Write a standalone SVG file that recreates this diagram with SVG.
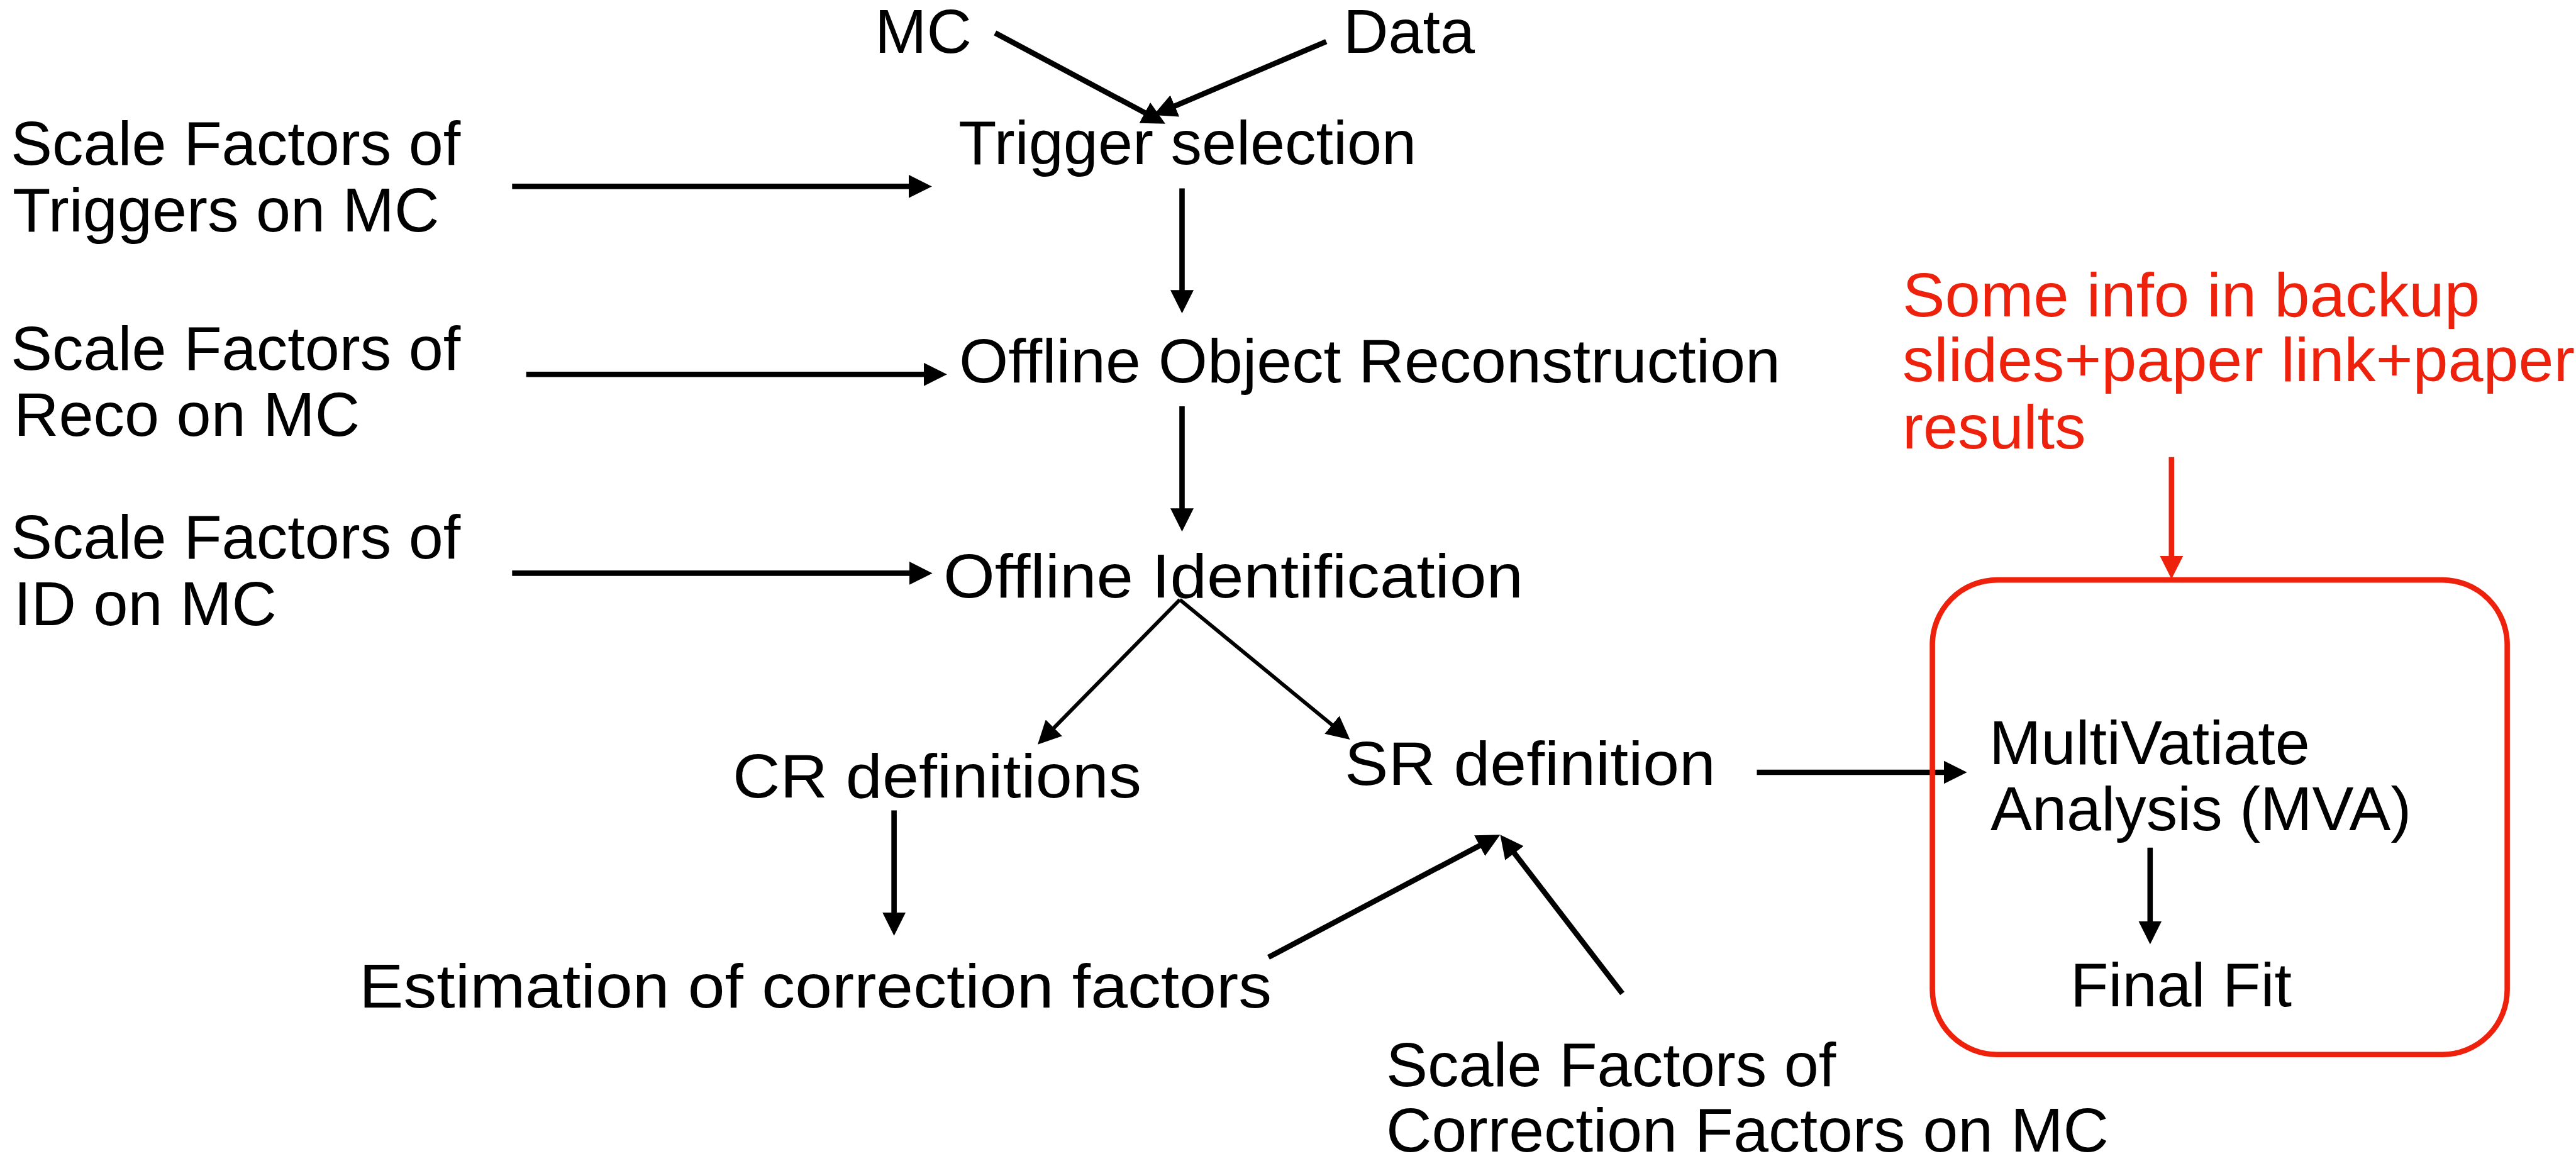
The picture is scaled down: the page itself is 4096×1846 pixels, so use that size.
<svg xmlns="http://www.w3.org/2000/svg" width="4096" height="1846" viewBox="0 0 4096 1846">
<style>
text{font-family:"Liberation Sans",Arial,Helvetica,sans-serif;font-size:99px;fill:#000}
.red{fill:#EE220C}
.c{stroke:#000;stroke-width:8.6;fill:none}
.thin{stroke-width:6}
.rc{stroke:#EE220C;stroke-width:8.6;fill:none}
</style>
<defs>
<marker id="ah" markerUnits="userSpaceOnUse" markerWidth="37" markerHeight="37" viewBox="0 0 37 37" refX="17" refY="18.5" orient="auto">
<path d="M0,0 L37,18.5 L0,37 z" fill="#000"/>
</marker>
<marker id="ahr" markerUnits="userSpaceOnUse" markerWidth="37" markerHeight="37" viewBox="0 0 37 37" refX="17" refY="18.5" orient="auto">
<path d="M0,0 L37,18.5 L0,37 z" fill="#EE220C"/>
</marker>
</defs>
<rect width="4096" height="1846" fill="#fff"/>
<g id="connectors">
<line class="c" x1="1582.3" y1="52.4" x2="1835.3" y2="187.3" marker-end="url(#ah)"/>
<line class="c" x1="2108.8" y1="66.1" x2="1852.4" y2="175.2" marker-end="url(#ah)"/>
<line class="c" x1="814.3" y1="296.4" x2="1461.8" y2="296.4" marker-end="url(#ah)"/>
<line class="c" x1="836.7" y1="595.3" x2="1485.8" y2="595.3" marker-end="url(#ah)"/>
<line class="c" x1="814.3" y1="911.4" x2="1462.6" y2="911.4" marker-end="url(#ah)"/>
<line class="c" x1="1879.5" y1="299.4" x2="1879.5" y2="478.2" marker-end="url(#ah)"/>
<line class="c" x1="1879.5" y1="646" x2="1879.5" y2="825.3" marker-end="url(#ah)"/>
<line class="c thin" x1="1876" y1="953.5" x2="1664" y2="1169.4" marker-end="url(#ah)"/>
<line class="c thin" x1="1876" y1="953.5" x2="2131.1" y2="1163.3" marker-end="url(#ah)"/>
<line class="c" x1="2793.5" y1="1228" x2="3107.6" y2="1228" marker-end="url(#ah)"/>
<line class="c" x1="1421.6" y1="1288.5" x2="1421.6" y2="1467.8" marker-end="url(#ah)"/>
<line class="c" x1="2017" y1="1522" x2="2367.7" y2="1336.6" marker-end="url(#ah)"/>
<line class="c" x1="2579.6" y1="1579.7" x2="2397.6" y2="1343.1" marker-end="url(#ah)"/>
<line class="rc" x1="3452.8" y1="726.7" x2="3452.8" y2="900.8" marker-end="url(#ahr)"/>
<line class="c" x1="3418.8" y1="1347.8" x2="3418.8" y2="1481.5" marker-end="url(#ah)"/>
</g>
<g id="mc"><text x="1391" y="84">MC</text></g>
<g id="data"><text x="2136" y="84">Data</text></g>
<g id="trigger"><text x="1524" y="261">Trigger selection</text></g>
<g id="sf-trig"><text x="17" y="262">Scale Factors of</text><text x="20" y="367.6">Triggers on MC</text></g>
<g id="sf-reco"><text x="17" y="587.6">Scale Factors of</text><text x="22" y="693.2">Reco on MC</text></g>
<g id="sf-id"><text x="17" y="888.2">Scale Factors of</text><text x="22" y="993.9">ID on MC</text></g>
<g id="reco"><text x="1525" y="608" textLength="1306" lengthAdjust="spacingAndGlyphs">Offline Object Reconstruction</text></g>
<g id="ident"><text x="1500" y="950" textLength="922" lengthAdjust="spacingAndGlyphs">Offline Identification</text></g>
<g id="cr"><text x="1165" y="1268" textLength="650" lengthAdjust="spacingAndGlyphs">CR definitions</text></g>
<g id="sr"><text x="2138" y="1248" textLength="590" lengthAdjust="spacingAndGlyphs">SR definition</text></g>
<g id="estimation"><text x="571" y="1602" textLength="1451" lengthAdjust="spacingAndGlyphs">Estimation of correction factors</text></g>
<g id="sf-corr"><text x="2204" y="1727.4">Scale Factors of</text><text x="2204" y="1831.4" textLength="1149" lengthAdjust="spacingAndGlyphs">Correction Factors on MC</text></g>
<g id="note"><text class="red" x="3025" y="502.5" textLength="918" lengthAdjust="spacingAndGlyphs">Some info in backup</text><text class="red" x="3025" y="605.6" textLength="1069" lengthAdjust="spacingAndGlyphs">slides+paper link+paper</text><text class="red" x="3025" y="713">results</text></g>
<g id="mva-box">
<rect class="rc" x="3072.6" y="922.1" width="914" height="754.6" rx="103" ry="103"/>
<text x="3163" y="1214.6">MultiVatiate</text>
<text x="3165" y="1320.3">Analysis (MVA)</text>
<text x="3292" y="1600">Final Fit</text>
</g>
</svg>
